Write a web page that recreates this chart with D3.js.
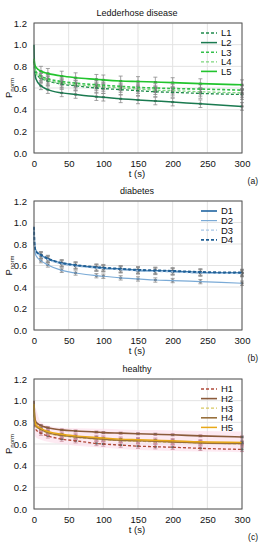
<!DOCTYPE html>
<html><head><meta charset="utf-8">
<script src="https://cdn.jsdelivr.net/npm/d3@7"></script>
<style>body{margin:0;background:#fff}svg{display:block;font-family:"Liberation Sans",Arial,sans-serif}</style>
</head><body>
<svg id="c" width="261" height="550"></svg>
<script>
const times = [0, 1, 3, 10, 20, 40, 60, 90, 100, 125, 150, 175, 200, 240, 300];
const xTicks = [0, 50, 100, 150, 200, 250, 300];
const yTicks = [0.0, 0.2, 0.4, 0.6, 0.8, 1.0, 1.2];
const panelTitles = ["Ledderhose disease", "diabetes", "healthy"];
const panelTags = ["(a)", "(b)", "(c)"];

const namesA = ["L1", "L2", "L3", "L4", "L5"];
const L1 = [0.84, 0.77, 0.73, 0.69, 0.665, 0.635, 0.62, 0.60, 0.595, 0.585, 0.575, 0.565, 0.56, 0.55, 0.54];
const L2 = [1.0, 0.76, 0.68, 0.62, 0.585, 0.555, 0.54, 0.52, 0.515, 0.50, 0.49, 0.48, 0.47, 0.455, 0.43];
const L3 = [0.85, 0.79, 0.75, 0.71, 0.685, 0.66, 0.645, 0.63, 0.625, 0.615, 0.605, 0.60, 0.595, 0.59, 0.58];
const L4 = [0.83, 0.77, 0.73, 0.695, 0.67, 0.645, 0.63, 0.615, 0.61, 0.60, 0.59, 0.58, 0.575, 0.565, 0.555];
const L5 = [0.87, 0.82, 0.79, 0.755, 0.735, 0.71, 0.695, 0.68, 0.675, 0.665, 0.66, 0.655, 0.65, 0.64, 0.63];

const namesB = ["D1", "D2", "D3", "D4"];
const D1 = [0.95, 0.78, 0.73, 0.695, 0.66, 0.62, 0.60, 0.58, 0.575, 0.565, 0.555, 0.55, 0.545, 0.535, 0.53];
const D2 = [0.92, 0.74, 0.69, 0.645, 0.605, 0.555, 0.53, 0.505, 0.50, 0.485, 0.475, 0.465, 0.46, 0.45, 0.435];
const D3 = [0.93, 0.77, 0.72, 0.69, 0.655, 0.615, 0.595, 0.575, 0.57, 0.56, 0.55, 0.545, 0.54, 0.53, 0.525];
const D4 = [0.96, 0.78, 0.73, 0.70, 0.665, 0.625, 0.605, 0.585, 0.58, 0.57, 0.56, 0.555, 0.55, 0.54, 0.535];

const namesC = ["H1", "H2", "H3", "H4", "H5"];
const H1 = [0.92, 0.78, 0.73, 0.70, 0.675, 0.645, 0.63, 0.605, 0.60, 0.59, 0.58, 0.575, 0.57, 0.56, 0.55];
const H2 = [1.0, 0.85, 0.80, 0.77, 0.75, 0.73, 0.72, 0.71, 0.705, 0.70, 0.695, 0.69, 0.685, 0.675, 0.665];
const H3 = [0.95, 0.81, 0.76, 0.73, 0.70, 0.675, 0.66, 0.645, 0.64, 0.63, 0.625, 0.62, 0.615, 0.61, 0.60];
const H4 = [0.96, 0.81, 0.765, 0.735, 0.705, 0.68, 0.665, 0.65, 0.645, 0.635, 0.63, 0.625, 0.62, 0.61, 0.605];
const H5 = [0.97, 0.82, 0.775, 0.745, 0.715, 0.69, 0.675, 0.66, 0.655, 0.645, 0.64, 0.635, 0.63, 0.62, 0.615];
const bandUpper = [1.0, 0.95, 0.92, 0.80, 0.77, 0.75, 0.745, 0.74, 0.74, 0.735, 0.73, 0.73, 0.725, 0.72, 0.715];
const bandLower = [0.70, 0.68, 0.66, 0.64, 0.62, 0.60, 0.585, 0.57, 0.565, 0.555, 0.545, 0.54, 0.535, 0.53, 0.525];

const errA = [0.045, 0.035, 0.04, 0.04, 0.045];
const errB = [0.03, 0.02, 0.03, 0.03];
const errC = [0.02, 0.01, 0.02, 0.02, 0.02];

const panels = [
  {names: namesA, data: [L1, L2, L3, L4, L5], err: errA,
   colors: ["#1f8a4c", "#1a7a50", "#33c04a", "#7ed67e", "#22c42e"],
   dash: ["3,2", null, "3,2", "3,2", null], widths: [1.3, 1.5, 1.6, 1.3, 1.6],
   errColor: "#8c8c8c", top: 23, bottom: 153},
  {names: namesB, data: [D1, D2, D3, D4], err: errB,
   colors: ["#2065a0", "#7aaad6", "#a9c8e6", "#1f5f95"],
   dash: [null, null, "3,2", "3,2"], widths: [1.6, 1.2, 1.2, 1.8],
   errColor: "#8c8c8c", top: 201, bottom: 330},
  {names: namesC, data: [H1, H2, H3, H4, H5], err: errC,
   colors: ["#b04a3a", "#8a5a3a", "#d8c860", "#98703c", "#e8a818"],
   dash: ["3,2", null, "3,2", null, null], widths: [1.3, 1.6, 1.2, 1.6, 1.5],
   errColor: "#c98a9a", top: 379, bottom: 509, band: true}
];

const svg = d3.select("#c");
const left = 34, right = 242;
const x = d3.scaleLinear().domain([0, 300]).range([left, right]);
const markIdx = d3.range(3, times.length);
const FONT = "Liberation Sans, Arial, sans-serif";

panels.forEach((p, pi) => {
  const y = d3.scaleLinear().domain([0, 1.2]).range([p.bottom, p.top]);
  const g = svg.append("g");
  g.selectAll(".gx").data(xTicks).join("line")
    .attr("x1", d => x(d)).attr("x2", d => x(d)).attr("y1", p.top).attr("y2", p.bottom)
    .attr("stroke", "#e3e3e3").attr("stroke-width", 1);
  g.selectAll(".gy").data(yTicks).join("line")
    .attr("x1", left).attr("x2", right).attr("y1", d => y(d)).attr("y2", d => y(d))
    .attr("stroke", "#e3e3e3").attr("stroke-width", 1);
  if (p.band) {
    const area = d3.area().x((d, i) => x(times[i])).y0((d, i) => y(bandLower[i])).y1(d => y(d)).curve(d3.curveMonotoneX);
    g.append("path").datum(bandUpper).attr("d", area).attr("fill", "#fcdcea").attr("opacity", 0.6);
  }
  p.data.forEach((vals, si) => {
    markIdx.forEach(i => {
      const cx = x(times[i]), e = p.err[si];
      g.append("line").attr("x1", cx).attr("x2", cx).attr("y1", y(vals[i] + e)).attr("y2", y(vals[i] - e))
        .attr("stroke", p.errColor).attr("stroke-width", 0.8);
      [vals[i] + e, vals[i] - e].forEach(v => g.append("line").attr("x1", cx - 2).attr("x2", cx + 2)
        .attr("y1", y(v)).attr("y2", y(v)).attr("stroke", p.errColor).attr("stroke-width", 0.8));
      g.append("rect").attr("x", cx - 1.5).attr("y", y(vals[i]) - 1).attr("width", 3).attr("height", 2)
        .attr("fill", "#666");
    });
  });
  const line = d3.line().x((d, i) => x(times[i])).y(d => y(d)).curve(d3.curveMonotoneX);
  p.data.forEach((vals, si) => {
    g.append("path").datum(vals).attr("d", line).attr("fill", "none")
      .attr("stroke", p.colors[si]).attr("stroke-width", p.widths[si])
      .attr("stroke-dasharray", p.dash[si]);
  });
  g.append("rect").attr("x", left).attr("y", p.top).attr("width", right - left).attr("height", p.bottom - p.top)
    .attr("fill", "none").attr("stroke", "#555").attr("stroke-width", 1);
  const ax = g.append("g").attr("transform", `translate(0,${p.bottom})`)
    .call(d3.axisBottom(x).tickValues(xTicks).tickSize(0).tickPadding(7));
  ax.select(".domain").remove();
  ax.selectAll("text").attr("font-size", 9.5).attr("fill", "#111").attr("font-family", FONT);
  const ay = g.append("g").attr("transform", `translate(${left},0)`)
    .call(d3.axisLeft(y).tickValues(yTicks).tickFormat(d3.format(".1f")).tickSize(0).tickPadding(7));
  ay.select(".domain").remove();
  ay.selectAll("text").attr("font-size", 9.5).attr("fill", "#111").attr("font-family", FONT);
  g.append("text").attr("x", 137).attr("y", p.top - 7).attr("text-anchor", "middle")
    .attr("font-size", 9).attr("fill", "#111").text(panelTitles[pi]);
  g.append("text").attr("x", 137).attr("y", p.bottom + 24).attr("text-anchor", "middle")
    .attr("font-size", 9.5).attr("fill", "#111").text("t (s)");
  g.append("text").attr("x", 258).attr("y", p.bottom + 31).attr("text-anchor", "end")
    .attr("font-size", 8.5).attr("fill", "#111").text(panelTags[pi]);
  const yl = g.append("text").attr("transform", `translate(12,${(p.top + p.bottom) / 2}) rotate(-90)`)
    .attr("text-anchor", "middle").attr("font-size", 9.5).attr("fill", "#111");
  yl.append("tspan").text("P");
  yl.append("tspan").attr("font-size", 6).attr("dy", 2).text("norm");
  p.names.forEach((n, si) => {
    const ly = p.top + 10 + si * 9.6;
    g.append("line").attr("x1", 201).attr("x2", 217).attr("y1", ly).attr("y2", ly)
      .attr("stroke", p.colors[si]).attr("stroke-width", p.widths[si]).attr("stroke-dasharray", p.dash[si]);
    g.append("text").attr("x", 221).attr("y", ly + 3.3).attr("font-size", 9.5).attr("fill", "#111").text(n);
  });
});
</script>
</body></html>
